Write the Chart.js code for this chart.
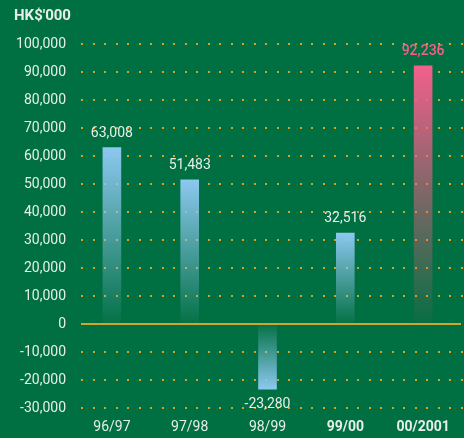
<!DOCTYPE html>
<html><head><meta charset="utf-8">
<script src="https://cdn.jsdelivr.net/npm/chart.js@4.4.1/dist/chart.umd.min.js"></script>
<style>
html,body{margin:0;padding:0;background:#006f41;}
#wrap{width:464px;height:438px;}
</style></head>
<body><div id="wrap"><canvas id="c" width="464" height="438"></canvas></div>
<script>
const categories = ["96/97", "97/98", "98/99", "99/00", "00/2001"];
const values = [63008, 51483, -23280, 32516, 92236];
const boldCategories = ["99/00", "00/2001"];
const unitLabel = "HK$'000";
const yMin = -30000, yMax = 100000, yStep = 10000;

const TXT = '#e6efe9';
const BLUE = [140, 200, 240];
const PINK = [242, 96, 140];

function fmt(v){ return v.toLocaleString('en-US'); }

const overlay = {
  id: 'overlay',
  beforeDatasetsDraw(chart){
    const {ctx, chartArea, scales} = chart;
    const y = scales.y;
    const left = chartArea.left + 8, right = chartArea.right;
    ctx.save();
    y.ticks.forEach(t => {
      const py = Math.round(y.getPixelForValue(t.value));
      if (t.value === 0) return;
      ctx.fillStyle = '#d9a21f';
      for (let x = left; x < right; x += 11.5) {
        ctx.fillRect(Math.round(x), py - 1, 2, 2);
      }
    });
    ctx.restore();
  },
  afterDatasetsDraw(chart){
    const {ctx, chartArea, scales} = chart;
    const y = scales.y;
    const py = y.getPixelForValue(0);
    ctx.save();
    ctx.strokeStyle = '#d2a42a';
    ctx.lineWidth = 2;
    ctx.beginPath();
    ctx.moveTo(chartArea.left + 8, py);
    ctx.lineTo(chartArea.right - 1, py);
    ctx.stroke();
    const meta = chart.getDatasetMeta(0);
    meta.data.forEach((bar, i) => {
      const v = values[i];
      const isLast = i === values.length - 1;
      ctx.font = (isLast ? '500 ' : '') + '14px Roboto';
      ctx.fillStyle = isLast ? 'rgb(242,96,140)' : TXT;
      ctx.textAlign = 'center';
      ctx.textBaseline = 'middle';
      const ty = v >= 0 ? bar.y - 14 : bar.y + 15;
      ctx.fillText(fmt(v), bar.x, ty);
    });
    ctx.font = 'bold 15px Roboto';
    ctx.fillStyle = TXT;
    ctx.textAlign = 'left';
    ctx.textBaseline = 'middle';
    ctx.fillText(unitLabel, 14, 16);
    ctx.restore();
  }
};

function barColor(c){
  const chart = c.chart;
  if (!chart.chartArea) return 'rgba(0,0,0,0)';
  const y = chart.scales.y;
  const v = values[c.dataIndex];
  const col = c.dataIndex === values.length - 1 ? PINK : BLUE;
  const y0 = y.getPixelForValue(0);
  const y1 = y.getPixelForValue(v);
  const g = chart.ctx.createLinearGradient(0, y1, 0, y0);
  g.addColorStop(0, `rgba(${col[0]},${col[1]},${col[2]},1)`);
  g.addColorStop(1, `rgba(${col[0]},${col[1]},${col[2]},0.03)`);
  return g;
}

new Chart(document.getElementById('c'), {
  type: 'bar',
  data: {
    labels: categories,
    datasets: [{ data: values, backgroundColor: barColor, borderWidth: 0, barThickness: 18 }]
  },
  plugins: [overlay],
  options: {
    responsive: false,
    animation: false,
    devicePixelRatio: 1,
    layout: { padding: { top: 44, right: 2, left: 0, bottom: 0 } },
    plugins: { legend: { display: false }, tooltip: { enabled: false } },
    scales: {
      x: {
        grid: { display: false, drawTicks: false },
        border: { display: false },
        ticks: {
          color: TXT,
          padding: 11,
          font: (c) => ({ family: 'Roboto', size: 14, weight: boldCategories.includes(categories[c.index]) ? 'bold' : 'normal' })
        },
        afterFit(s){ s.height = 30; }
      },
      y: {
        min: yMin, max: yMax,
        grid: { display: false, drawTicks: false },
        border: { display: false },
        ticks: {
          stepSize: yStep,
          color: TXT,
          padding: 7,
          font: { family: 'Roboto', size: 14 },
          callback: (v) => fmt(v)
        },
        afterFit(s){ s.width = 73; }
      }
    }
  }
});
</script></body></html>
